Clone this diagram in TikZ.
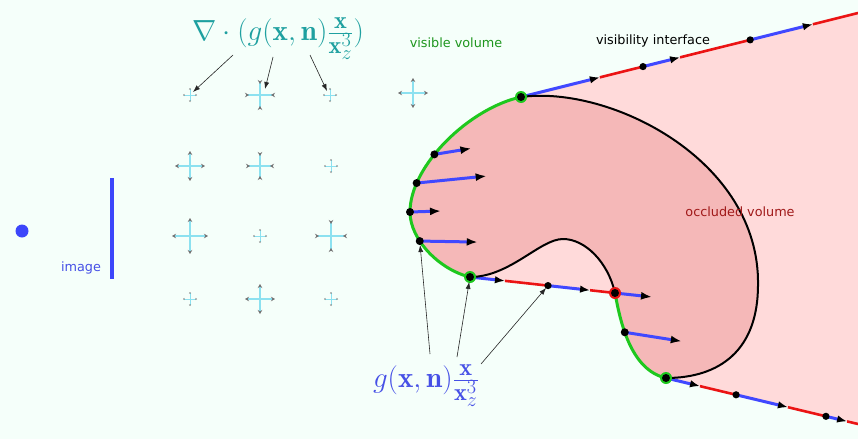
\documentclass[tikz,border=0pt]{standalone}
\usepackage{graphicx}
\usepackage{fontspec}
\newfontfamily\dejavu{DejaVu Sans}
\usetikzlibrary{arrows.meta,calc}
\definecolor{bgmint}{RGB}{245,255,250}
\definecolor{lightpink}{RGB}{255,218,218}
\definecolor{darkpink}{RGB}{245,184,184}
\definecolor{vgreen}{RGB}{30,200,30}
\definecolor{ublue}{RGB}{64,72,255}
\definecolor{ured}{RGB}{235,20,20}
\definecolor{fteal}{RGB}{30,160,160}
\definecolor{gblue}{RGB}{70,80,230}
\definecolor{txtgreen}{RGB}{30,150,30}
\definecolor{txtred}{RGB}{160,25,25}
\definecolor{crosscyan}{RGB}{140,225,240}
\definecolor{imgblue}{RGB}{60,70,250}
\tikzset{
  blueseg/.style={draw=ublue,line width=3pt},
  redseg/.style={draw=ured,line width=2.6pt},
  tipmark/.style={-{Latex[length=10pt,width=7.5pt,black]}},
  outline/.style={draw=black,line width=2pt},
  greenline/.style={draw=vgreen,line width=3pt},
  normarrow/.style={draw=ublue,line width=3pt,-{Latex[length=11pt,width=8pt,black]}},
  thinarrow/.style={draw=black!85,line width=0.6pt,-{Latex[length=7pt,width=5pt]}},
  crossarm/.style={draw=crosscyan,line width=1.2pt},
  label/.style={font=\fontsize{12.8}{15}\dejavu},
  bigmath/.style={font=\fontsize{24.88}{30}\selectfont}
}
\newcommand\crossOut[3]{\foreach \ang in {0,90,180,270}
  \draw[crossarm,-{Stealth[length=4pt,width=4.5pt,black!55]}] (#1,#2) -- ++(\ang:#3);}
\newcommand\crossIn[3]{\foreach \ang in {0,90,180,270}
  \draw[crossarm,-{Stealth[length=4pt,width=4.5pt,black!55,reversed]}] (#1,#2) -- ++(\ang:#3);}
\newcommand\crossSmall[2]{\foreach \ang in {0,90,180,270}
  \draw[crossarm,line width=0.7pt,-{Stealth[length=1.6pt,width=2pt,black!55]}] (#1,#2) -- ++(\ang:7);}
\begin{document}
\begin{tikzpicture}[x=1pt,y=-1pt]
\useasboundingbox (0,0) rectangle (858,439);
\fill[bgmint] (0,0) rectangle (858,439);

% key points
\coordinate (A) at (521,97);
\coordinate (U) at (858,13);
\coordinate (B) at (470,277);
\coordinate (C) at (615,293);
\coordinate (D) at (666,378);
\coordinate (V) at (858,424);
\coordinate (L) at (410,212);
\coordinate (R) at (758,285);
\coordinate (P) at (563,239);

% occluded (light) region
\fill[lightpink] (A) -- (U) -- (V) -- (D) .. controls (630,370) and (620,320) .. (C) -- (B)
  .. controls (440,270) and (410,240) .. (L) .. controls (410,165) and (470,108) .. (A) -- cycle;

% object
\fill[darkpink] (A) .. controls (610,85) and (760,160) .. (R) .. controls (758,350) and (720,378) .. (D)
  .. controls (630,370) and (620,320) .. (C) .. controls (608,262) and (585,239) .. (P)
  .. controls (540,239) and (510,277) .. (B) .. controls (440,270) and (410,240) .. (L)
  .. controls (410,165) and (470,108) .. (A) -- cycle;

% points on the visible surface
\path (A) .. controls (470,108) and (410,165) .. (L) coordinate[pos=0.6] (N1) coordinate[pos=0.8] (N2);
\path (L) .. controls (410,240) and (440,270) .. (B) coordinate[pos=0.35] (N4);
\path (C) .. controls (620,320) and (630,370) .. (D) coordinate[pos=0.4] (E);

% visibility interface lines
\foreach \a/\b in {0.234/0.362, 0.472/0.680, 0.866/1} \draw[redseg] ($(A)!\a!(U)$) -- ($(A)!\b!(U)$);
\foreach \a/\b in {0/0.234, 0.362/0.472, 0.680/0.866} \draw[blueseg,tipmark] ($(A)!\a!(U)$) -- ($(A)!\b!(U)$);
\foreach \a in {0.362,0.680} \fill ($(A)!\a!(U)$) circle (3.6);

\foreach \a/\b in {0.241/0.538, 0.828/1} \draw[redseg] ($(B)!\a!(C)$) -- ($(B)!\b!(C)$);
\foreach \a/\b in {0/0.241, 0.538/0.828} \draw[blueseg,tipmark] ($(B)!\a!(C)$) -- ($(B)!\b!(C)$);
\coordinate (M) at ($(B)!0.538!(C)$);
\fill (M) circle (3.6);

\foreach \a/\b in {0.177/0.365, 0.635/0.833, 0.943/1} \draw[redseg] ($(D)!\a!(V)$) -- ($(D)!\b!(V)$);
\foreach \a/\b in {0/0.177, 0.365/0.635, 0.833/0.943} \draw[blueseg,tipmark] ($(D)!\a!(V)$) -- ($(D)!\b!(V)$);
\foreach \a in {0.365,0.833} \fill ($(D)!\a!(V)$) circle (3.6);

% outlines
\draw[outline] (A) .. controls (610,85) and (760,160) .. (R) .. controls (758,350) and (720,378) .. (D);
\draw[outline] (C) .. controls (608,262) and (585,239) .. (P) .. controls (540,239) and (510,277) .. (B);
\draw[greenline] (A) .. controls (470,108) and (410,165) .. (L) .. controls (410,240) and (440,270) .. (B);
\draw[greenline] (C) .. controls (620,320) and (630,370) .. (D);

% normal arrows
\draw[normarrow] (N1) -- ++(37,-6);
\draw[normarrow] (N2) -- ++(70,-7);
\draw[normarrow] (L) -- ++(31,-1);
\draw[normarrow] (N4) -- ++(58,1);
\draw[normarrow] (C) -- ++(37,4);
\draw[normarrow] (E) -- ++(57,9);
\foreach \p in {N1,N2,L,N4,E} \fill (\p) circle (4);

% corner points
\foreach \p in {A,B,D} {\fill[vgreen] (\p) circle (6); \fill (\p) circle (4);}
\fill[ured] (C) circle (6); \fill (C) circle (4);

% camera and image
\fill[imgblue] (22,231) circle (6.5);
\draw[imgblue,line width=4pt] (112,178) -- (112,279);
\node[label,text=gblue] (img) at (81,268) {image};

% labels
\node[label,text=txtgreen] (vis) at (456,43) {visible volume};
\node[label,text=black] (vif) at (653,41) {visibility interface};
\node[label,text=txtred] (occ) at (740,212) {occluded volume};

% crosses
\crossSmall{190}{95}
\crossIn{260}{95}{15}
\crossSmall{330}{95}
\crossOut{413}{93}{15}
\crossOut{190}{166}{15}
\crossIn{260}{166}{14}
\crossSmall{331}{166}
\crossOut{190}{236}{18}
\crossSmall{260}{236}
\crossIn{331}{236}{16}
\crossSmall{190}{299}
\crossOut{260}{299}{15}
\crossSmall{331}{299}

% divergence formula
\node[bigmath,text=fteal] (df) at (278,39) {\scalebox{1.17}{$\nabla\cdot\bigl(g(\mathbf{x},\mathbf{n})\frac{\mathbf{x}}{\mathbf{x}_z^3}\bigr)$}};
\coordinate (d1) at (233,55);
\coordinate (d2) at (273,57);
\coordinate (d3) at (310,55);
\coordinate (c1) at (193,92);
\coordinate (c2) at (265,89);
\coordinate (c3) at (327,91);
\draw[thinarrow] (d1) -- (c1);
\draw[thinarrow] (d2) -- (c2);
\draw[thinarrow] (d3) -- (c3);

% weighting formula
\node[bigmath,text=gblue] (gf) at (426,386) {\scalebox{1.17}{$g(\mathbf{x},\mathbf{n})\frac{\mathbf{x}}{\mathbf{x}_z^3}$}};
\coordinate (g1) at (430,354);
\coordinate (g2) at (457,357);
\coordinate (g3) at (481,364);
\draw[thinarrow,shorten >=4pt] (g1) -- (N4);
\draw[thinarrow,shorten >=5pt] (g2) -- (B);
\draw[thinarrow,shorten >=3pt] (g3) -- (M);
\end{tikzpicture}
\end{document}
